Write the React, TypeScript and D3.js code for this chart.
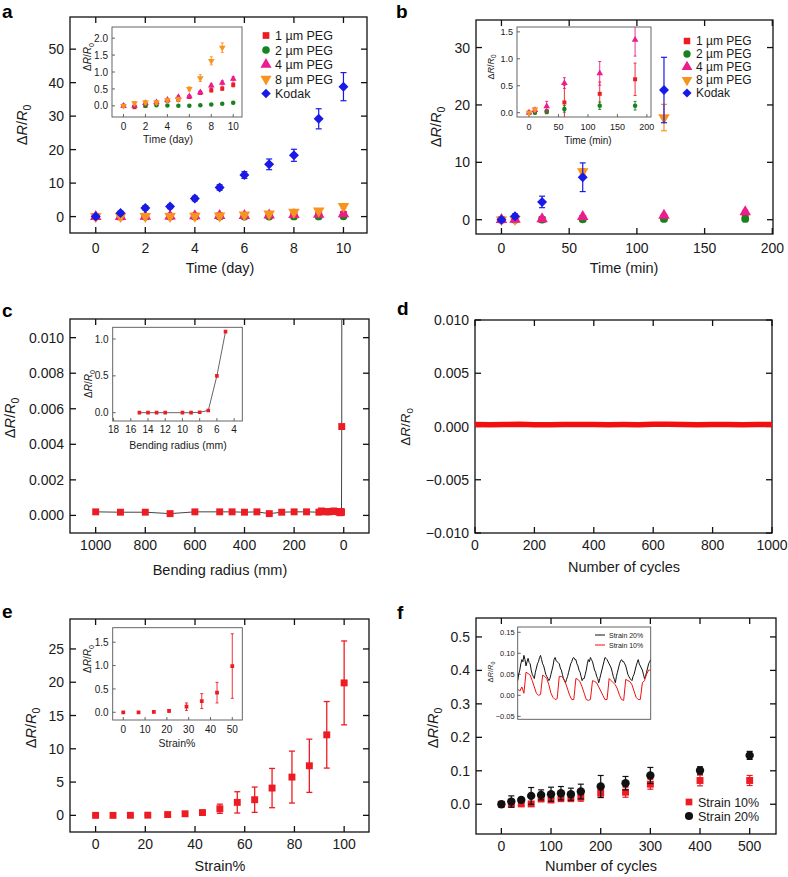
import React from "react";
import * as d3 from "d3";

const FONT = "'Liberation Sans', Arial, Helvetica, sans-serif";
const C_RED = "#ed1c24";
const C_GREEN = "#17821f";
const C_PINK = "#ec1c8c";
const C_ORANGE = "#f7941d";
const C_BLUE = "#1a1ae6";
const C_BLACK = "#111111";

// ---------- Panel a (day) ----------
const daysA = [0, 1, 2, 3, 4, 5, 6, 7, 8, 9, 10];
const a1um = [0, -0.04, 0, 0.1, 0.15, 0.18, 0.26, 0.38, 0.46, 0.51, 0.62];
const a1umErr = [0.02, 0.03, 0.03, 0.03, 0.03, 0.04, 0.04, 0.04, 0.05, 0.05, 0.06];
const a2um = [0, -0.01, 0, 0.02, 0.01, 0, 0, 0.02, 0.04, 0.06, 0.09];
const a2umErr = [0.02, 0.02, 0.02, 0.02, 0.02, 0.02, 0.02, 0.02, 0.02, 0.02, 0.03];
const a4um = [0, 0, 0.08, 0.1, 0.18, 0.26, 0.28, 0.4, 0.6, 0.68, 0.8];
const a4umErr = [0.02, 0.02, 0.03, 0.03, 0.04, 0.04, 0.04, 0.05, 0.05, 0.06, 0.06];
const a8um = [0, 0.08, 0.1, 0.1, 0.17, 0.2, 0.5, 0.82, 1.33, 1.72, 3.1];
const a8umErr = [0.02, 0.05, 0.05, 0.05, 0.05, 0.05, 0.06, 0.1, 0.12, 0.14, 0.6];
const aKodak = [0, 1.1, 2.6, 3.0, 5.4, 8.7, 12.4, 15.6, 18.3, 29.2, 38.8];
const aKodakErr = [0.4, 0.5, 0.6, 0.6, 0.7, 0.8, 1.0, 1.6, 1.8, 3.0, 4.2];

// ---------- Panel b (min) ----------
const minB = [0, 10, 30, 60, 120, 180];
const b1um = [0, 0.02, 0.02, 0.19, 0.35, 0.62];
const b1umErr = [0.02, 0.04, 0.04, 0.32, 0.22, 0.3];
const b2um = [0, 0, 0.02, 0.07, 0.13, 0.13];
const b2umErr = [0.02, 0.02, 0.03, 0.06, 0.07, 0.08];
const b4um = [0, 0.05, 0.12, 0.55, 0.73, 1.35];
const b4umErr = [0.02, 0.04, 0.09, 0.1, 0.22, 0.3];
const minB8 = [0, 10, 60, 120];
const b8um = [0, 0.06, 8.4, 17.8];
const b8umErr = [0.02, 0.03, 0.5, 2.3];
const minBK = [0, 10, 30, 60, 120];
const bKodak = [0, 0.6, 3.1, 7.4, 22.6];
const bKodakErr = [0.3, 0.4, 1.0, 2.5, 5.7];

// ---------- Panel c (bending) ----------
const radiiC = [1000, 900, 800, 700, 600, 500, 450, 400, 350, 300, 250, 200, 150, 100, 90, 80, 70, 60, 50, 40, 30, 20, 15, 14, 13, 12, 10, 9, 8, 7, 6, 5];
const valsC = [0.0002, 0.00018, 0.00018, 0.0001, 0.0002, 0.0002, 0.0002, 0.00018, 0.0002, 0.0001, 0.00018, 0.0002, 0.0002, 0.00018, 0.00025, 0.00022, 0.0002, 0.0002, 0.00022, 0.00025, 0.00022, 0.0002, 0.00015, 0.00018, 0.0002, 0.0002, 0.0002, 0.00018, 0.005, 0.03, 0.5, 1.1];
const radiiCi = [15, 14, 13, 12, 10, 9, 8, 7, 6, 5];
const valsCi = [0, 0, 0, 0, 0, 0, 0.005, 0.03, 0.5, 1.1];

// ---------- Panel d (cycles) ----------
const cyclesD = [0, 50, 100, 150, 200, 250, 300, 350, 400, 450, 500, 550, 600, 650, 700, 750, 800, 850, 900, 950, 1000];
const valsD = [0.00018, 0.00017, 0.00019, 0.0002, 0.00017, 0.00016, 0.00018, 0.00019, 0.00018, 0.00017, 0.00018, 0.00017, 0.00021, 0.0002, 0.00018, 0.00017, 0.00019, 0.00018, 0.00017, 0.00019, 0.00018];

// ---------- Panel e (strain) ----------
const strainE = [0, 7, 14, 21, 29, 36, 43, 50, 57, 64, 71, 79, 86, 93, 100];
const valsE = [0, 0, 0.01, 0.03, 0.12, 0.24, 0.42, 0.99, 1.95, 2.35, 4.1, 5.75, 7.45, 12.1, 19.9];
const errE = [0.01, 0.01, 0.02, 0.03, 0.08, 0.16, 0.22, 0.69, 1.6, 1.9, 2.95, 3.9, 4.0, 5.0, 6.3];

// ---------- Panel f (cycles) ----------
const cyclesF = [0, 20, 40, 60, 80, 100, 120, 140, 160, 200, 250, 300, 400, 500];
const f10 = [0, 0, 0.001, 0.001, 0.016, 0.013, 0.018, 0.018, 0.021, 0.033, 0.036, 0.06, 0.071, 0.071];
const f10Err = [0.004, 0.005, 0.005, 0.006, 0.008, 0.008, 0.01, 0.01, 0.012, 0.012, 0.015, 0.015, 0.016, 0.015];
const f20 = [0, 0.008, 0.013, 0.025, 0.028, 0.03, 0.033, 0.03, 0.038, 0.053, 0.063, 0.086, 0.101, 0.146];
const f20Err = [0.004, 0.017, 0.007, 0.025, 0.015, 0.021, 0.02, 0.018, 0.022, 0.033, 0.02, 0.024, 0.011, 0.012];
// inset f: strain 20% sampled at t = 0..128, strain 10% at t = 0,2,..,128
const fin20 = [
  0.035, 0.05, 0.06, 0.075, 0.085, 0.08, 0.095, 0.085, 0.07, 0.08, 0.088, 0.078, 0.075, 0.06, 0.05, 0.045,
  0.04, 0.055, 0.065, 0.075, 0.08, 0.09, 0.095, 0.085, 0.075, 0.07, 0.06, 0.05, 0.045, 0.04, 0.035, 0.04,
  0.05, 0.06, 0.07, 0.085, 0.09, 0.082, 0.08, 0.078, 0.075, 0.065, 0.06, 0.05, 0.04, 0.035, 0.03, 0.038,
  0.045, 0.055, 0.065, 0.075, 0.08, 0.088, 0.09, 0.085, 0.085, 0.075, 0.07, 0.06, 0.055, 0.045, 0.035, 0.04,
  0.04, 0.05, 0.06, 0.075, 0.085, 0.08, 0.09, 0.085, 0.08, 0.07, 0.06, 0.055, 0.045, 0.04, 0.03, 0.04,
  0.05, 0.06, 0.07, 0.08, 0.09, 0.088, 0.085, 0.08, 0.075, 0.07, 0.065, 0.055, 0.045, 0.038, 0.03, 0.045,
  0.055, 0.065, 0.075, 0.082, 0.085, 0.08, 0.08, 0.075, 0.07, 0.06, 0.05, 0.045, 0.04, 0.038, 0.035, 0.045,
  0.05, 0.06, 0.07, 0.078, 0.085, 0.075, 0.07, 0.065, 0.06, 0.05, 0.04, 0.045, 0.055, 0.065, 0.075, 0.08, 0.085];
const fin10 = [0.015, 0.01, 0.02, 0.005, 0.055, 0.052, 0.048, 0.035, 0.02, 0.005, 0.0, 0.002, 0.048, 0.045, 0.04, 0.025,
  0.005, -0.005, -0.01, -0.008, 0.045, 0.045, 0.04, 0.03, 0.015, 0.0, -0.01, -0.01, 0.04, 0.038, 0.032, 0.02,
  0.005, -0.01, -0.012, -0.01, 0.035, 0.033, 0.03, 0.02, 0.01, 0.0, -0.01, -0.01, 0.04, 0.035, 0.03, 0.025,
  0.015, 0.0, -0.01, -0.012, 0.038, 0.035, 0.033, 0.025, 0.01, -0.005, -0.01, -0.01, 0.03, 0.035, 0.05, 0.06, 0.06];

// ---------- ticks ----------
const ticksA_x = [0, 2, 4, 6, 8, 10];
const ticksA_y = [0, 10, 20, 30, 40, 50];
const ticksAi_y = [0, 0.5, 1, 1.5, 2];
const ticksB_x = [0, 50, 100, 150, 200];
const ticksB_y = [0, 10, 20, 30];
const ticksBi_y = [0, 0.5, 1, 1.5];
const ticksC_x = [0, 200, 400, 600, 800, 1000];
const ticksC_y = [0, 0.002, 0.004, 0.006, 0.008, 0.01];
const ticksCi_x = [18, 16, 14, 12, 10, 8, 6, 4];
const ticksCi_y = [0, 0.5, 1];
const ticksD_x = [0, 200, 400, 600, 800, 1000];
const ticksD_y = [-0.01, -0.005, 0, 0.005, 0.01];
const ticksE_x = [0, 20, 40, 60, 80, 100];
const ticksE_y = [0, 5, 10, 15, 20, 25];
const ticksEi_x = [0, 10, 20, 30, 40, 50];
const ticksEi_y = [0, 0.5, 1, 1.5];
const ticksF_x = [0, 100, 200, 300, 400, 500];
const ticksF_y = [0, 0.1, 0.2, 0.3, 0.4, 0.5];
const ticksFi_y = [-0.05, 0, 0.05, 0.1, 0.15];

const legendPEG = ["1 µm PEG", "2 µm PEG", "4 µm PEG", "8 µm PEG", "Kodak"];

type Frame = { x0: number; x1: number; y0: number; y1: number; xDom: [number, number]; yDom: [number, number] };

const FA: Frame = { x0: 70, x1: 367, y0: 17, y1: 233, xDom: [-1.04, 10.95], yDom: [-4.9, 59.6] };
const FAi: Frame = { x0: 112, x1: 242, y0: 27, y1: 117, xDom: [-1.05, 10.8], yDom: [-0.33, 2.33] };
const FB: Frame = { x0: 476, x1: 773, y0: 20, y1: 234, xDom: [-18.8, 200.5], yDom: [-2.49, 34.8] };
const FBi: Frame = { x0: 517, x1: 651, y0: 27, y1: 117, xDom: [-20.4, 207], yDom: [-0.08, 1.59] };
const FC: Frame = { x0: 70, x1: 369, y0: 319, y1: 533, xDom: [1103.5, -101.9], yDom: [-0.00099, 0.01105] };
const FCi: Frame = { x0: 112.7, x1: 242.3, y0: 327.3, y1: 421, xDom: [18.1, 3.05], yDom: [-0.113, 1.159] };
const FD: Frame = { x0: 475, x1: 772, y0: 320, y1: 533, xDom: [0, 1000], yDom: [-0.01, 0.01] };
const FE: Frame = { x0: 70, x1: 369, y0: 619, y1: 832, xDom: [-10.3, 110], yDom: [-2.5, 29.5] };
const FEi: Frame = { x0: 112.7, x1: 242.3, y0: 627.7, y1: 720, xDom: [-4.86, 54.6], yDom: [-0.165, 1.81] };
const FF: Frame = { x0: 476, x1: 776, y0: 618, y1: 834, xDom: [-51.1, 553], yDom: [-0.0889, 0.5566] };
const FFi: Frame = { x0: 517.7, x1: 650.7, y0: 627, y1: 719.3, xDom: [0, 128], yDom: [-0.057, 0.1626] };

const sx = (f: Frame) => d3.scaleLinear().domain(f.xDom).range([f.x0, f.x1]);
const sy = (f: Frame) => d3.scaleLinear().domain(f.yDom).range([f.y1, f.y0]);

type Shape = "square" | "circle" | "tri" | "tridown" | "diamond";

function symPath(shape: Shape, size: number) {
  const t = shape === "circle" ? d3.symbolCircle : shape === "square" || shape === "diamond" ? d3.symbolSquare : d3.symbolTriangle;
  return d3.symbol().type(t).size(size)() as string;
}
function symRot(shape: Shape) {
  return shape === "diamond" ? 45 : shape === "tridown" ? 180 : 0;
}

function Marker({ x, y, shape, size, color }: { x: number; y: number; shape: Shape; size: number; color: string }) {
  return <path d={symPath(shape, size)} transform={`translate(${x},${y}) rotate(${symRot(shape)})`} fill={color} />;
}

function Series({ f, xs, ys, es, shape, size, color, cap, sw, clip }: any) {
  const x = sx(f), y = sy(f);
  return (
    <g clipPath={`url(#${clip})`}>
      {es && xs.map((xv: number, i: number) => {
        const px = x(xv);
        const top = y(ys[i] + es[i]);
        const bot = y(ys[i] - es[i]);
        return (
          <g key={"e" + i} stroke={color} strokeWidth={sw}>
            <line x1={px} x2={px} y1={top} y2={bot} />
            <line x1={px - cap} x2={px + cap} y1={top} y2={top} />
            <line x1={px - cap} x2={px + cap} y1={bot} y2={bot} />
          </g>
        );
      })}
      {xs.map((xv: number, i: number) => (
        <Marker key={"m" + i} x={x(xv)} y={y(ys[i])} shape={shape} size={size} color={color} />
      ))}
    </g>
  );
}

function Axes({ f, xTicks, yTicks, xFmt, yFmt, fs, tl, mirror, xOff, yGap, color, sw, showX = true, inset = false }: any) {
  const x = sx(f), y = sy(f);
  return (
    <g>
      {inset && <rect x={f.x0} y={f.y0} width={f.x1 - f.x0} height={f.y1 - f.y0} fill="#fff" />}
      <rect x={f.x0} y={f.y0} width={f.x1 - f.x0} height={f.y1 - f.y0} fill="none" stroke={color} strokeWidth={sw} />
      {xTicks.map((t: number) => (
        <g key={"x" + t}>
          <line x1={x(t)} x2={x(t)} y1={f.y1} y2={f.y1 - tl} stroke={color} strokeWidth={sw} />
          {mirror && <line x1={x(t)} x2={x(t)} y1={f.y0} y2={f.y0 + tl} stroke={color} strokeWidth={sw} />}
          {showX && (
            <text x={x(t)} y={f.y1 + xOff} textAnchor="middle" fontSize={fs} fill="#1a1a1a">
              {xFmt(t)}
            </text>
          )}
        </g>
      ))}
      {yTicks.map((t: number) => (
        <g key={"y" + t}>
          <line x1={f.x0} x2={f.x0 + tl} y1={y(t)} y2={y(t)} stroke={color} strokeWidth={sw} />
          {mirror && <line x1={f.x1} x2={f.x1 - tl} y1={y(t)} y2={y(t)} stroke={color} strokeWidth={sw} />}
          <text x={f.x0 - yGap} y={y(t)} dy="0.36em" textAnchor="end" fontSize={fs} fill="#1a1a1a">
            {yFmt(t)}
          </text>
        </g>
      ))}
    </g>
  );
}

function DRR({ x, y, fs }: { x: number; y: number; fs: number }) {
  return (
    <text transform={`translate(${x},${y}) rotate(-90)`} textAnchor="middle" fontSize={fs} fill="#1a1a1a">
      Δ<tspan fontStyle="italic">R</tspan>/<tspan fontStyle="italic">R</tspan>
      <tspan fontSize={fs * 0.72} dy={fs * 0.25}>0</tspan>
    </text>
  );
}

function Clip({ id, f }: { id: string; f: Frame }) {
  return (
    <clipPath id={id}>
      <rect x={f.x0} y={f.y0} width={f.x1 - f.x0} height={f.y1 - f.y0} />
    </clipPath>
  );
}

function Letter({ x, y, t }: { x: number; y: number; t: string }) {
  return (
    <text x={x} y={y} fontSize={19} fontWeight="bold" fill="#000">
      {t}
    </text>
  );
}

const fmtD = d3.format("d");
const fmt1 = d3.format(".1f");
const fmt2 = d3.format(".2f");
const fmt3 = d3.format(".3f");

const MAIN = { fs: 14, tl: 6, mirror: true, xOff: 19, yGap: 6, color: "#111", sw: 1.3 };
const INS = { fs: 10, tl: 3, mirror: false, xOff: 13, yGap: 4, color: "#555", sw: 0.9, inset: true };

function LegendPEG({ x, y0, step, fs, size }: any) {
  const shapes: Shape[] = ["square", "circle", "tri", "tridown", "diamond"];
  const colors = [C_RED, C_GREEN, C_PINK, C_ORANGE, C_BLUE];
  return (
    <g>
      {legendPEG.map((l, i) => (
        <g key={l}>
          <Marker x={x} y={y0 + i * step} shape={shapes[i]} size={shapes[i] === "tri" || shapes[i] === "tridown" ? size * 1.2 : size} color={colors[i]} />
          <text x={x + 9} y={y0 + i * step} dy="0.36em" fontSize={fs} fill="#1a1a1a">
            {l}
          </text>
        </g>
      ))}
    </g>
  );
}

function PanelA() {
  const M = 48, I = 16;
  return (
    <g>
      <Letter x={2} y={18} t="a" />
      <Axes f={FA} xTicks={ticksA_x} yTicks={ticksA_y} xFmt={fmtD} yFmt={fmtD} {...MAIN} xOff={20} />
      <Series f={FA} xs={daysA} ys={a1um} es={a1umErr} shape="square" size={M} color={C_RED} cap={3} sw={1.2} clip="cA" />
      <Series f={FA} xs={daysA} ys={a2um} es={a2umErr} shape="circle" size={M} color={C_GREEN} cap={3} sw={1.2} clip="cA" />
      <Series f={FA} xs={daysA} ys={a4um} es={a4umErr} shape="tri" size={M * 1.2} color={C_PINK} cap={3} sw={1.2} clip="cA" />
      <Series f={FA} xs={daysA} ys={a8um} es={a8umErr} shape="tridown" size={M * 1.2} color={C_ORANGE} cap={3} sw={1.2} clip="cA" />
      <Series f={FA} xs={daysA} ys={aKodak} es={aKodakErr} shape="diamond" size={50} color={C_BLUE} cap={3} sw={1.2} clip="cA" />
      <DRR x={27} y={125} fs={14.5} />
      <text x={220} y={273} textAnchor="middle" fontSize={14.5} fill="#1a1a1a">Time (day)</text>
      <Axes f={FAi} xTicks={ticksA_x} yTicks={ticksAi_y} xFmt={fmtD} yFmt={fmt1} {...INS} xOff={12.5} />
      <Series f={FAi} xs={daysA} ys={a1um} es={a1umErr} shape="square" size={I} color={C_RED} cap={1.5} sw={0.9} clip="cAi" />
      <Series f={FAi} xs={daysA} ys={a2um} es={a2umErr} shape="circle" size={I} color={C_GREEN} cap={1.5} sw={0.9} clip="cAi" />
      <Series f={FAi} xs={daysA} ys={a4um} es={a4umErr} shape="tri" size={I * 1.2} color={C_PINK} cap={1.5} sw={0.9} clip="cAi" />
      <Series f={FAi} xs={daysA} ys={a8um} es={a8umErr} shape="tridown" size={I * 1.2} color={C_ORANGE} cap={1.5} sw={0.9} clip="cAi" />
      <DRR x={91} y={57} fs={10} />
      <text x={168} y={143} textAnchor="middle" fontSize={10.5} fill="#1a1a1a">Time (day)</text>
      <LegendPEG x={266} y0={35.5} step={14.5} fs={12.5} size={45} />
    </g>
  );
}

function PanelB() {
  const M = 48, I = 16;
  return (
    <g>
      <Letter x={396} y={18} t="b" />
      <Axes f={FB} xTicks={ticksB_x} yTicks={ticksB_y} xFmt={fmtD} yFmt={fmtD} {...MAIN} xOff={19} />
      <Series f={FB} xs={minB} ys={b1um} es={b1umErr} shape="square" size={M} color={C_RED} cap={3} sw={1.2} clip="cB" />
      <Series f={FB} xs={minB} ys={b2um} es={b2umErr} shape="circle" size={M} color={C_GREEN} cap={3} sw={1.2} clip="cB" />
      <Series f={FB} xs={minB8} ys={b8um} es={b8umErr} shape="tridown" size={M * 1.2} color={C_ORANGE} cap={3} sw={1.2} clip="cB" />
      <Series f={FB} xs={minB} ys={b4um} es={b4umErr} shape="tri" size={M * 1.2} color={C_PINK} cap={3} sw={1.2} clip="cB" />
      <Series f={FB} xs={minBK} ys={bKodak} es={bKodakErr} shape="diamond" size={50} color={C_BLUE} cap={3} sw={1.2} clip="cB" />
      <DRR x={441} y={127} fs={14.5} />
      <text x={624} y={273} textAnchor="middle" fontSize={14.5} fill="#1a1a1a">Time (min)</text>
      <Axes f={FBi} xTicks={ticksB_x} yTicks={ticksBi_y} xFmt={fmtD} yFmt={fmt1} {...INS} fs={9} xOff={13} />
      <Series f={FBi} xs={minB} ys={b1um} es={b1umErr} shape="square" size={I} color={C_RED} cap={1.5} sw={0.9} clip="cBi" />
      <Series f={FBi} xs={minB} ys={b2um} es={b2umErr} shape="circle" size={I} color={C_GREEN} cap={1.5} sw={0.9} clip="cBi" />
      <Series f={FBi} xs={minB} ys={b4um} es={b4umErr} shape="tri" size={I * 1.2} color={C_PINK} cap={1.5} sw={0.9} clip="cBi" />
      <Series f={FBi} xs={minB8} ys={b8um} es={b8umErr} shape="tridown" size={I * 1.2} color={C_ORANGE} cap={1.5} sw={0.9} clip="cBi" />
      <DRR x={494} y={67} fs={9} />
      <text x={588} y={144} textAnchor="middle" fontSize={10} fill="#1a1a1a">Time (min)</text>
      <LegendPEG x={687} y0={41} step={13} fs={12} size={42} />
    </g>
  );
}

function PanelC() {
  const x = sx(FC), y = sy(FC);
  const xi = sx(FCi), yi = sy(FCi);
  const line = d3.line<number>().x((d, i) => x(radiiC[i])).y((d) => y(d));
  const linei = d3.line<number>().x((d, i) => xi(radiiCi[i])).y((d) => yi(d));
  return (
    <g>
      <Letter x={2} y={317} t="c" />
      <Axes f={FC} xTicks={ticksC_x} yTicks={ticksC_y} xFmt={fmtD} yFmt={fmt3} {...MAIN} xOff={17} />
      <g clipPath="url(#cC)">
        <path d={line(valsC) as string} fill="none" stroke="#444" strokeWidth={1} />
      </g>
      <Series f={FC} xs={radiiC} ys={valsC} shape="square" size={48} color={C_RED} clip="cC" />
      <DRR x={15} y={418} fs={14.5} />
      <text x={220} y={575} textAnchor="middle" fontSize={14.5} fill="#1a1a1a">Bending radius (mm)</text>
      <Axes f={FCi} xTicks={ticksCi_x} yTicks={ticksCi_y} xFmt={fmtD} yFmt={fmt1} {...INS} xOff={12} />
      <g clipPath="url(#cCi)">
        <path d={linei(valsCi) as string} fill="none" stroke="#555" strokeWidth={0.9} />
      </g>
      <Series f={FCi} xs={radiiCi} ys={valsCi} shape="square" size={13} color={C_RED} clip="cCi" />
      <DRR x={92} y={384} fs={10} />
      <text x={178} y={449} textAnchor="middle" fontSize={10.5} fill="#1a1a1a">Bending radius (mm)</text>
    </g>
  );
}

function PanelD() {
  const x = sx(FD), y = sy(FD);
  const line = d3.line<number>().x((d, i) => x(cyclesD[i])).y((d) => y(d));
  return (
    <g>
      <Letter x={397} y={315} t="d" />
      <Axes f={FD} xTicks={ticksD_x} yTicks={ticksD_y} xFmt={fmtD} yFmt={fmt3} {...MAIN} xOff={17} />
      <g clipPath="url(#cD)">
        <path d={line(valsD) as string} fill="none" stroke="#f01010" strokeWidth={5.5} />
      </g>
      <DRR x={410} y={427} fs={13.5} />
      <text x={624} y={572} textAnchor="middle" fontSize={14.5} fill="#1a1a1a">Number of cycles</text>
    </g>
  );
}

function PanelE() {
  return (
    <g>
      <Letter x={2} y={618} t="e" />
      <Axes f={FE} xTicks={ticksE_x} yTicks={ticksE_y} xFmt={fmtD} yFmt={fmtD} {...MAIN} xOff={16.5} />
      <Series f={FE} xs={strainE} ys={valsE} es={errE} shape="square" size={48} color={C_RED} cap={3} sw={1.3} clip="cE" />
      <DRR x={36} y={728} fs={14.5} />
      <text x={220} y={871} textAnchor="middle" fontSize={14.5} fill="#1a1a1a">Strain%</text>
      <Axes f={FEi} xTicks={ticksEi_x} yTicks={ticksEi_y} xFmt={fmtD} yFmt={fmt1} {...INS} xOff={13} />
      <Series f={FEi} xs={strainE} ys={valsE} es={errE} shape="square" size={14} color={C_RED} cap={1.5} sw={0.9} clip="cEi" />
      <DRR x={91} y={659} fs={10} />
      <text x={177} y={747} textAnchor="middle" fontSize={10.5} fill="#1a1a1a">Strain%</text>
    </g>
  );
}

function PanelF() {
  const xi = sx(FFi), yi = sy(FFi);
  const l20 = d3.line<number>().x((d, i) => xi(i)).y((d) => yi(d));
  const l10 = d3.line<number>().x((d, i) => xi(i * 2)).y((d) => yi(d));
  return (
    <g>
      <Letter x={397} y={619} t="f" />
      <Axes f={FF} xTicks={ticksF_x} yTicks={ticksF_y} xFmt={fmtD} yFmt={fmt1} {...MAIN} xOff={16.5} />
      <Series f={FF} xs={cyclesF} ys={f10} es={f10Err} shape="square" size={48} color={C_RED} cap={3} sw={1.2} clip="cF" />
      <Series f={FF} xs={cyclesF} ys={f20} es={f20Err} shape="circle" size={55} color={C_BLACK} cap={3} sw={1.2} clip="cF" />
      <DRR x={438} y={728} fs={14.5} />
      <text x={601} y={871} textAnchor="middle" fontSize={14.5} fill="#1a1a1a">Number of cycles</text>
      <Marker x={689} y={802} shape="square" size={45} color={C_RED} />
      <text x={698} y={802} dy="0.36em" fontSize={12.5} fill="#1a1a1a">Strain 10%</text>
      <Marker x={689} y={816} shape="circle" size={52} color={C_BLACK} />
      <text x={698} y={816} dy="0.36em" fontSize={12.5} fill="#1a1a1a">Strain 20%</text>
      <Axes f={FFi} xTicks={[]} yTicks={ticksFi_y} xFmt={fmtD} yFmt={fmt2} {...INS} fs={7.5} yGap={3} />
      <g clipPath="url(#cFi)">
        <path d={l20(fin20) as string} fill="none" stroke="#111" strokeWidth={1} />
        <path d={l10(fin10) as string} fill="none" stroke="#f01010" strokeWidth={1} />
      </g>
      <DRR x={493} y={672} fs={7.5} />
      <line x1={595} x2={605} y1={635} y2={635} stroke="#111" strokeWidth={1} />
      <text x={609} y={635} dy="0.36em" fontSize={7} fill="#1a1a1a">Strain 20%</text>
      <line x1={595} x2={605} y1={645} y2={645} stroke="#f01010" strokeWidth={1} />
      <text x={609} y={645} dy="0.36em" fontSize={7} fill="#1a1a1a">Strain 10%</text>
    </g>
  );
}

export default function App() {
  return (
    <svg width={788} height={877} style={{ position: "absolute", left: 0, top: 0, background: "#fff" }} fontFamily={FONT}>
      <defs>
        <Clip id="cA" f={FA} />
        <Clip id="cAi" f={FAi} />
        <Clip id="cB" f={FB} />
        <Clip id="cBi" f={FBi} />
        <Clip id="cC" f={FC} />
        <Clip id="cCi" f={FCi} />
        <Clip id="cD" f={FD} />
        <Clip id="cE" f={FE} />
        <Clip id="cEi" f={FEi} />
        <Clip id="cF" f={FF} />
        <Clip id="cFi" f={FFi} />
      </defs>
      <rect width={788} height={877} fill="#fff" />
      <PanelA />
      <PanelB />
      <PanelC />
      <PanelD />
      <PanelE />
      <PanelF />
    </svg>
  );
}
